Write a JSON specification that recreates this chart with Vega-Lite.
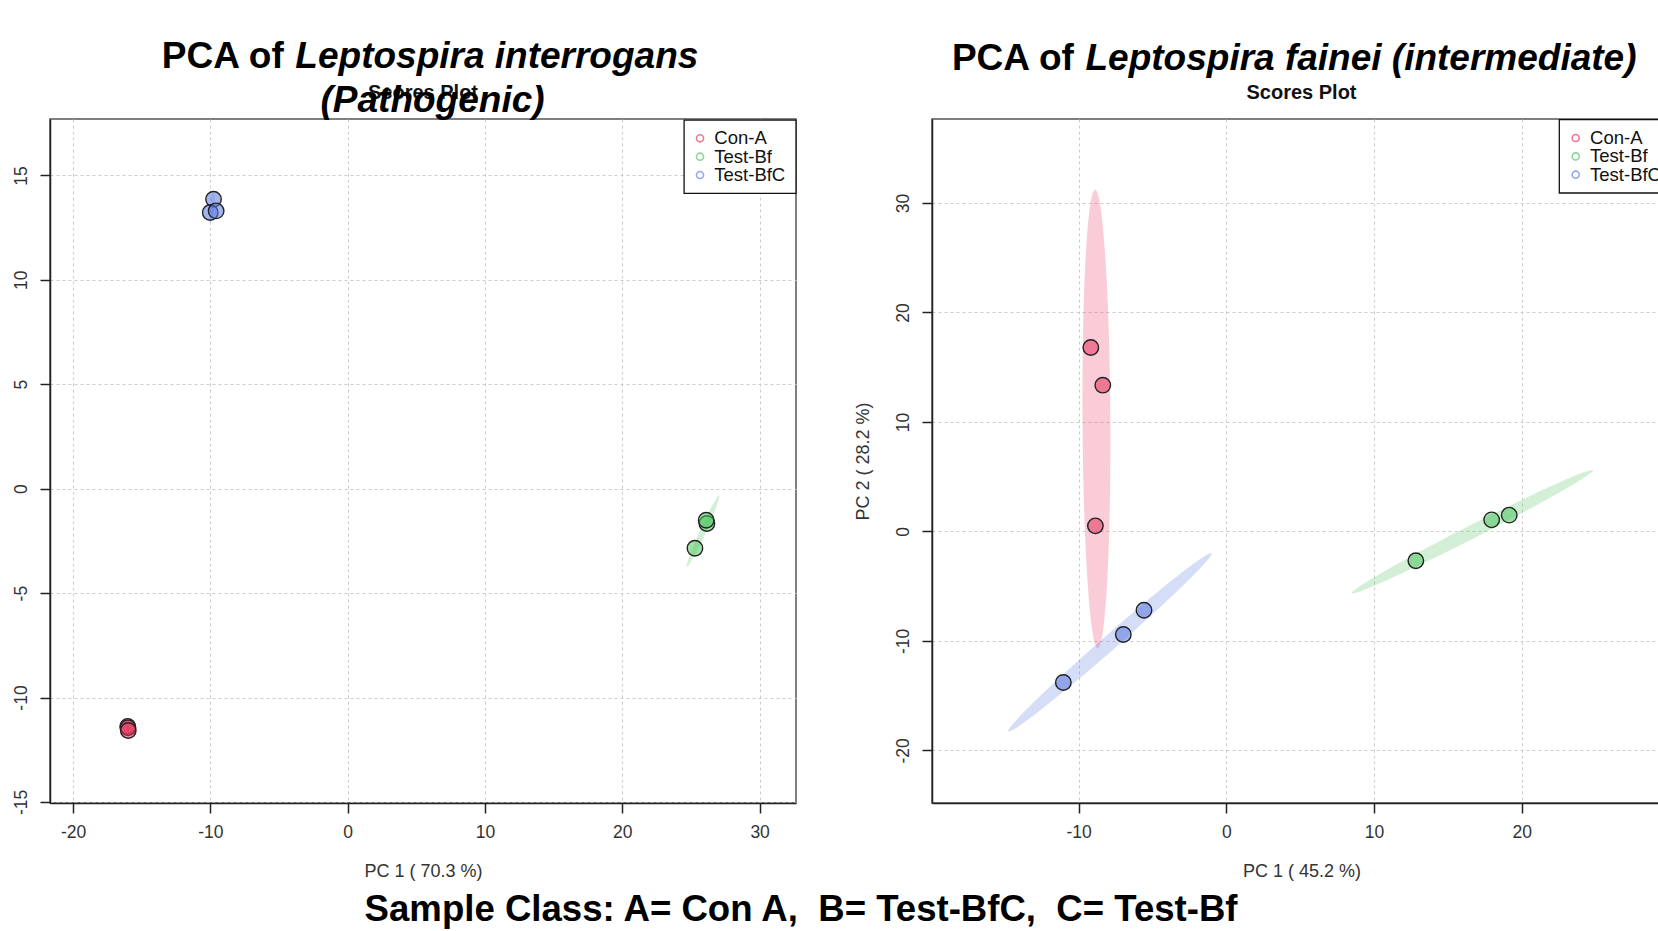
{
  "$schema": "https://vega.github.io/schema/vega-lite/v6.json",
  "background": "white",
  "padding": {"left": 11, "top": 36, "right": 0, "bottom": 0},
  "autosize": {"type": "pad"},
  "bounds": "flush",
  "spacing": 136,
  "config": {
    "font": "Liberation Sans",
    "view": {"stroke": "#555", "strokeWidth": 1.5},
    "axis": {
      "domainColor": "#222", "domainWidth": 1.5, "tickColor": "#222", "tickWidth": 1.5, "tickSize": 10,
      "labelFont": "Liberation Sans", "labelFontSize": 17.5, "labelColor": "#333", "labelOverlap": false, "labelFlush": false,
      "labelExpr": "datum.value < 0 ? '-' + abs(datum.value) : '' + datum.value",
      "titleFont": "Liberation Sans", "titleFontSize": 18, "titleFontWeight": "normal", "titleColor": "#333",
      "grid": true, "gridColor": "#cccccc", "gridDash": [3, 3], "gridWidth": 1
    },
    "axisX": {"labelPadding": 10, "titlePadding": 22},
    "axisY": {"labelAngle": -90, "labelAlign": "center", "labelBaseline": "alphabetic", "labelPadding": 14, "titlePadding": 22}
  },
  "resolve": {"scale": {"color": "independent", "fill": "independent", "x": "independent", "y": "independent"}},
  "datasets": {
    "leg": [
      {"group": "Con-A"},
      {"group": "Test-Bf"},
      {"group": "Test-BfC"}
    ],
    "pts1": [
      {"pc1": -16.02, "pc2": -11.38, "group": "Con-A"},
      {"pc1": -16.0, "pc2": -11.45, "group": "Con-A"},
      {"pc1": -15.98, "pc2": -11.58, "group": "Con-A"},
      {"pc1": 25.29, "pc2": -2.85, "group": "Test-Bf"},
      {"pc1": 26.16, "pc2": -1.67, "group": "Test-Bf"},
      {"pc1": 26.11, "pc2": -1.51, "group": "Test-Bf"},
      {"pc1": -9.77, "pc2": 13.86, "group": "Test-BfC"},
      {"pc1": -10.01, "pc2": 13.22, "group": "Test-BfC"},
      {"pc1": -9.58, "pc2": 13.3, "group": "Test-BfC"}
    ],
    "pts2": [
      {"pc1": -9.17, "pc2": 16.8, "group": "Con-A"},
      {"pc1": -8.36, "pc2": 13.36, "group": "Con-A"},
      {"pc1": -8.86, "pc2": 0.51, "group": "Con-A"},
      {"pc1": 12.83, "pc2": -2.68, "group": "Test-Bf"},
      {"pc1": 17.96, "pc2": 1.06, "group": "Test-Bf"},
      {"pc1": 19.15, "pc2": 1.49, "group": "Test-Bf"},
      {"pc1": -5.57, "pc2": -7.19, "group": "Test-BfC"},
      {"pc1": -6.97, "pc2": -9.41, "group": "Test-BfC"},
      {"pc1": -11.03, "pc2": -13.79, "group": "Test-BfC"}
    ],
    "ell1": [
      {"group": "Con-A", "i": 0, "pc1": -15.97, "pc2": -11.18},
      {"group": "Con-A", "i": 1, "pc1": -15.908, "pc2": -11.268},
      {"group": "Con-A", "i": 2, "pc1": -15.9, "pc2": -11.48},
      {"group": "Con-A", "i": 3, "pc1": -15.95, "pc2": -11.692},
      {"group": "Con-A", "i": 4, "pc1": -16.03, "pc2": -11.78},
      {"group": "Con-A", "i": 5, "pc1": -16.092, "pc2": -11.692},
      {"group": "Con-A", "i": 6, "pc1": -16.1, "pc2": -11.48},
      {"group": "Con-A", "i": 7, "pc1": -16.05, "pc2": -11.268},
      {"group": "Test-BfC", "i": 0, "pc1": -9.77, "pc2": 14.17},
      {"group": "Test-BfC", "i": 1, "pc1": -9.699, "pc2": 13.956},
      {"group": "Test-BfC", "i": 2, "pc1": -9.74, "pc2": 13.44},
      {"group": "Test-BfC", "i": 3, "pc1": -9.869, "pc2": 12.924},
      {"group": "Test-BfC", "i": 4, "pc1": -10.01, "pc2": 12.71},
      {"group": "Test-BfC", "i": 5, "pc1": -10.081, "pc2": 12.924},
      {"group": "Test-BfC", "i": 6, "pc1": -10.04, "pc2": 13.44},
      {"group": "Test-BfC", "i": 7, "pc1": -9.911, "pc2": 13.956},
      {"group": "Test-Bf", "i": 0, "pc1": 27.06, "pc2": -0.31},
      {"group": "Test-Bf", "i": 1, "pc1": 27.047, "pc2": -0.464},
      {"group": "Test-Bf", "i": 2, "pc1": 26.855, "pc2": -0.856},
      {"group": "Test-Bf", "i": 3, "pc1": 26.517, "pc2": -1.426},
      {"group": "Test-Bf", "i": 4, "pc1": 26.08, "pc2": -2.089},
      {"group": "Test-Bf", "i": 5, "pc1": 25.613, "pc2": -2.744},
      {"group": "Test-Bf", "i": 6, "pc1": 25.187, "pc2": -3.288},
      {"group": "Test-Bf", "i": 7, "pc1": 24.867, "pc2": -3.642},
      {"group": "Test-Bf", "i": 8, "pc1": 24.7, "pc2": -3.75},
      {"group": "Test-Bf", "i": 9, "pc1": 24.713, "pc2": -3.596},
      {"group": "Test-Bf", "i": 10, "pc1": 24.905, "pc2": -3.204},
      {"group": "Test-Bf", "i": 11, "pc1": 25.243, "pc2": -2.634},
      {"group": "Test-Bf", "i": 12, "pc1": 25.68, "pc2": -1.971},
      {"group": "Test-Bf", "i": 13, "pc1": 26.147, "pc2": -1.316},
      {"group": "Test-Bf", "i": 14, "pc1": 26.573, "pc2": -0.772},
      {"group": "Test-Bf", "i": 15, "pc1": 26.893, "pc2": -0.418}
    ],
    "ell2": [
      {"group": "Con-A", "i": 0, "pc1": -8.88, "pc2": 31.2},
      {"group": "Con-A", "i": 1, "pc1": -8.513, "pc2": 29.61},
      {"group": "Con-A", "i": 2, "pc1": -8.189, "pc2": 25.06},
      {"group": "Con-A", "i": 3, "pc1": -7.955, "pc2": 18.28},
      {"group": "Con-A", "i": 4, "pc1": -7.85, "pc2": 10.26},
      {"group": "Con-A", "i": 5, "pc1": -7.887, "pc2": 2.24},
      {"group": "Con-A", "i": 6, "pc1": -8.061, "pc2": -4.54},
      {"group": "Con-A", "i": 7, "pc1": -8.347, "pc2": -9.09},
      {"group": "Con-A", "i": 8, "pc1": -8.7, "pc2": -10.68},
      {"group": "Con-A", "i": 9, "pc1": -9.067, "pc2": -9.09},
      {"group": "Con-A", "i": 10, "pc1": -9.391, "pc2": -4.54},
      {"group": "Con-A", "i": 11, "pc1": -9.625, "pc2": 2.24},
      {"group": "Con-A", "i": 12, "pc1": -9.73, "pc2": 10.26},
      {"group": "Con-A", "i": 13, "pc1": -9.693, "pc2": 18.28},
      {"group": "Con-A", "i": 14, "pc1": -9.519, "pc2": 25.06},
      {"group": "Con-A", "i": 15, "pc1": -9.233, "pc2": 29.61},
      {"group": "Test-BfC", "i": 0, "pc1": -0.99, "pc2": -1.98},
      {"group": "Test-BfC", "i": 1, "pc1": -1.385, "pc2": -2.796},
      {"group": "Test-BfC", "i": 2, "pc1": -2.77, "pc2": -4.729},
      {"group": "Test-BfC", "i": 3, "pc1": -4.926, "pc2": -7.478},
      {"group": "Test-BfC", "i": 4, "pc1": -7.536, "pc2": -10.635},
      {"group": "Test-BfC", "i": 5, "pc1": -10.196, "pc2": -13.714},
      {"group": "Test-BfC", "i": 6, "pc1": -12.498, "pc2": -16.239},
      {"group": "Test-BfC", "i": 7, "pc1": -14.099, "pc2": -17.838},
      {"group": "Test-BfC", "i": 8, "pc1": -14.75, "pc2": -18.26},
      {"group": "Test-BfC", "i": 9, "pc1": -14.355, "pc2": -17.444},
      {"group": "Test-BfC", "i": 10, "pc1": -12.97, "pc2": -15.511},
      {"group": "Test-BfC", "i": 11, "pc1": -10.814, "pc2": -12.762},
      {"group": "Test-BfC", "i": 12, "pc1": -8.204, "pc2": -9.605},
      {"group": "Test-BfC", "i": 13, "pc1": -5.544, "pc2": -6.526},
      {"group": "Test-BfC", "i": 14, "pc1": -3.242, "pc2": -4.001},
      {"group": "Test-BfC", "i": 15, "pc1": -1.641, "pc2": -2.402},
      {"group": "Test-Bf", "i": 0, "pc1": 24.83, "pc2": 5.6},
      {"group": "Test-Bf", "i": 1, "pc1": 24.286, "pc2": 4.97},
      {"group": "Test-Bf", "i": 2, "pc1": 22.576, "pc2": 3.581},
      {"group": "Test-Bf", "i": 3, "pc1": 19.971, "pc2": 1.647},
      {"group": "Test-Bf", "i": 4, "pc1": 16.855, "pc2": -0.544},
      {"group": "Test-Bf", "i": 5, "pc1": 13.709, "pc2": -2.655},
      {"group": "Test-Bf", "i": 6, "pc1": 11.016, "pc2": -4.359},
      {"group": "Test-Bf", "i": 7, "pc1": 9.178, "pc2": -5.406},
      {"group": "Test-Bf", "i": 8, "pc1": 8.48, "pc2": -5.63},
      {"group": "Test-Bf", "i": 9, "pc1": 9.024, "pc2": -5.0},
      {"group": "Test-Bf", "i": 10, "pc1": 10.734, "pc2": -3.611},
      {"group": "Test-Bf", "i": 11, "pc1": 13.339, "pc2": -1.677},
      {"group": "Test-Bf", "i": 12, "pc1": 16.455, "pc2": 0.514},
      {"group": "Test-Bf", "i": 13, "pc1": 19.601, "pc2": 2.625},
      {"group": "Test-Bf", "i": 14, "pc1": 22.294, "pc2": 4.329},
      {"group": "Test-Bf", "i": 15, "pc1": 24.132, "pc2": 5.376}
    ]
  },
  "hconcat": [
    {
      "width": 746,
      "height": 684,
      "layer": [
        {
          "data": {"name": "ell1"},
          "mark": {"type": "line", "interpolate": "cardinal-closed", "fillOpacity": 0.25, "strokeOpacity": 0, "strokeWidth": 0},
          "encoding": {
            "x": {"field": "pc1", "type": "quantitative", "scale": {"domain": [-21.68, 32.65], "nice": false, "zero": false}, "axis": {"values": [-20, -10, 0, 10, 20, 30], "title": "PC 1 ( 70.3 %)"}},
            "y": {"field": "pc2", "type": "quantitative", "scale": {"domain": [-15.05, 17.7], "nice": false, "zero": false}, "axis": {"values": [-15, -10, -5, 0, 5, 10, 15], "title": null}},
            "order": {"field": "i", "type": "quantitative"},
            "detail": {"field": "group"},
            "fill": {"field": "group", "type": "nominal", "scale": {"domain": ["Con-A", "Test-Bf", "Test-BfC"], "range": ["#e8345f", "#4fc45f", "#5a78e0"]}, "legend": null}
          }
        },
        {
          "data": {"name": "pts1"},
          "mark": {"type": "point", "filled": true, "shape": "circle", "size": 240, "fillOpacity": 0.55, "stroke": "#222", "strokeWidth": 1.4},
          "encoding": {
            "x": {"field": "pc1", "type": "quantitative"},
            "y": {"field": "pc2", "type": "quantitative"},
            "fill": {"field": "group", "type": "nominal", "legend": null}
          }
        },
        {
          "data": {"values": [{"t": "box"}]},
          "mark": {"type": "rect", "fill": "white", "stroke": "#111", "strokeWidth": 1.3},
          "encoding": {"x": {"datum": 24.5, "type": "quantitative"}, "x2": {"datum": 32.65}, "y": {"datum": 17.65, "type": "quantitative"}, "y2": {"datum": 14.14}}
        },
        {
          "data": {"name": "leg"},
          "transform": [{"filter": "datum.group === 'Con-A'"}],
          "encoding": {"y": {"datum": 16.776, "type": "quantitative"}},
          "layer": [
            {"mark": {"type": "point", "filled": false, "shape": "circle", "size": 50, "strokeWidth": 1.6},
             "encoding": {"x": {"datum": 25.66, "type": "quantitative"}, "color": {"field": "group", "type": "nominal", "scale": {"domain": ["Con-A", "Test-Bf", "Test-BfC"], "range": ["#e8416a", "#5cc46c", "#6f7fe3"]}, "legend": null}}},
            {"mark": {"type": "text", "align": "left", "baseline": "middle", "font": "Liberation Sans", "fontSize": 18.5, "fill": "#111"},
             "encoding": {"x": {"datum": 26.7, "type": "quantitative"}, "text": {"field": "group"}}}
          ]
        },
        {
          "data": {"name": "leg"},
          "transform": [{"filter": "datum.group === 'Test-Bf'"}],
          "encoding": {"y": {"datum": 15.895, "type": "quantitative"}},
          "layer": [
            {"mark": {"type": "point", "filled": false, "shape": "circle", "size": 50, "strokeWidth": 1.6},
             "encoding": {"x": {"datum": 25.66, "type": "quantitative"}, "color": {"field": "group", "type": "nominal", "scale": {"domain": ["Con-A", "Test-Bf", "Test-BfC"], "range": ["#e8416a", "#5cc46c", "#6f7fe3"]}, "legend": null}}},
            {"mark": {"type": "text", "align": "left", "baseline": "middle", "font": "Liberation Sans", "fontSize": 18.5, "fill": "#111"},
             "encoding": {"x": {"datum": 26.7, "type": "quantitative"}, "text": {"field": "group"}}}
          ]
        },
        {
          "data": {"name": "leg"},
          "transform": [{"filter": "datum.group === 'Test-BfC'"}],
          "encoding": {"y": {"datum": 15.019, "type": "quantitative"}},
          "layer": [
            {"mark": {"type": "point", "filled": false, "shape": "circle", "size": 50, "strokeWidth": 1.6},
             "encoding": {"x": {"datum": 25.66, "type": "quantitative"}, "color": {"field": "group", "type": "nominal", "scale": {"domain": ["Con-A", "Test-Bf", "Test-BfC"], "range": ["#e8416a", "#5cc46c", "#6f7fe3"]}, "legend": null}}},
            {"mark": {"type": "text", "align": "left", "baseline": "middle", "font": "Liberation Sans", "fontSize": 18.5, "fill": "#111"},
             "encoding": {"x": {"datum": 26.7, "type": "quantitative"}, "text": {"field": "group"}}}
          ]
        },
        {
          "data": {"values": [{"t": "Scores Plot"}]},
          "mark": {"type": "text", "align": "center", "baseline": "alphabetic", "font": "Liberation Sans", "fontSize": 20, "fontWeight": "bold", "fill": "#111"},
          "encoding": {"x": {"datum": 5.485, "type": "quantitative"}, "y": {"datum": 18.66, "type": "quantitative"}, "text": {"field": "t"}}
        },
        {
          "data": {"values": [{"t": "PCA of"}]},
          "mark": {"type": "text", "align": "left", "baseline": "alphabetic", "font": "Liberation Sans", "fontSize": 37, "fontWeight": "bold", "fill": "#000"},
          "encoding": {"x": {"datum": -13.54, "type": "quantitative"}, "y": {"datum": 20.16, "type": "quantitative"}, "text": {"field": "t"}}
        },
        {
          "data": {"values": [{"t": "Leptospira interrogans"}]},
          "mark": {"type": "text", "align": "left", "baseline": "alphabetic", "font": "Liberation Sans", "fontSize": 37, "fontWeight": "bold", "fontStyle": "italic", "fill": "#000"},
          "encoding": {"x": {"datum": -3.81, "type": "quantitative"}, "y": {"datum": 20.16, "type": "quantitative"}, "text": {"field": "t"}}
        },
        {
          "data": {"values": [{"t": "(Pathogenic)"}]},
          "mark": {"type": "text", "align": "center", "baseline": "alphabetic", "font": "Liberation Sans", "fontSize": 37, "fontWeight": "bold", "fontStyle": "italic", "fill": "#000"},
          "encoding": {"x": {"datum": 6.18, "type": "quantitative"}, "y": {"datum": 18.04, "type": "quantitative"}, "text": {"field": "t"}}
        },
        {
          "data": {"values": [{"t": "Sample Class: A= Con A,\u00a0 B= Test-BfC,\u00a0 C= Test-Bf"}]},
          "mark": {"type": "text", "align": "center", "baseline": "alphabetic", "font": "Liberation Sans", "fontSize": 36.6, "fontWeight": "bold", "fill": "#000"},
          "encoding": {"x": {"datum": 33.02, "type": "quantitative"}, "y": {"datum": -20.7, "type": "quantitative"}, "text": {"field": "t"}}
        }
      ]
    },
    {
      "width": 739,
      "height": 684,
      "layer": [
        {
          "data": {"name": "ell2"},
          "mark": {"type": "line", "interpolate": "cardinal-closed", "fillOpacity": 0.25, "strokeOpacity": 0, "strokeWidth": 0},
          "encoding": {
            "x": {"field": "pc1", "type": "quantitative", "scale": {"domain": [-19.92, 30.1], "nice": false, "zero": false}, "axis": {"values": [-10, 0, 10, 20], "title": "PC 1 ( 45.2 %)"}},
            "y": {"field": "pc2", "type": "quantitative", "scale": {"domain": [-24.8, 37.67], "nice": false, "zero": false}, "axis": {"values": [-20, -10, 0, 10, 20, 30], "title": "PC 2 ( 28.2 %)"}},
            "order": {"field": "i", "type": "quantitative"},
            "detail": {"field": "group"},
            "fill": {"field": "group", "type": "nominal", "scale": {"domain": ["Con-A", "Test-Bf", "Test-BfC"], "range": ["#e8345f", "#4fc45f", "#5a78e0"]}, "legend": null}
          }
        },
        {
          "data": {"name": "pts2"},
          "mark": {"type": "point", "filled": true, "shape": "circle", "size": 240, "fillOpacity": 0.55, "stroke": "#222", "strokeWidth": 1.4},
          "encoding": {
            "x": {"field": "pc1", "type": "quantitative"},
            "y": {"field": "pc2", "type": "quantitative"},
            "fill": {"field": "group", "type": "nominal", "legend": null}
          }
        },
        {
          "data": {"values": [{"t": "box"}]},
          "mark": {"type": "rect", "fill": "white", "stroke": "#111", "strokeWidth": 1.3},
          "encoding": {"x": {"datum": 22.54, "type": "quantitative"}, "x2": {"datum": 31.5}, "y": {"datum": 37.61, "type": "quantitative"}, "y2": {"datum": 30.91}}
        },
        {
          "data": {"name": "leg"},
          "transform": [{"filter": "datum.group === 'Con-A'"}],
          "encoding": {"y": {"datum": 35.935, "type": "quantitative"}},
          "layer": [
            {"mark": {"type": "point", "filled": false, "shape": "circle", "size": 50, "strokeWidth": 1.6},
             "encoding": {"x": {"datum": 23.65, "type": "quantitative"}, "color": {"field": "group", "type": "nominal", "scale": {"domain": ["Con-A", "Test-Bf", "Test-BfC"], "range": ["#e8416a", "#5cc46c", "#6f7fe3"]}, "legend": null}}},
            {"mark": {"type": "text", "align": "left", "baseline": "middle", "font": "Liberation Sans", "fontSize": 18.5, "fill": "#111"},
             "encoding": {"x": {"datum": 24.62, "type": "quantitative"}, "text": {"field": "group"}}}
          ]
        },
        {
          "data": {"name": "leg"},
          "transform": [{"filter": "datum.group === 'Test-Bf'"}],
          "encoding": {"y": {"datum": 34.254, "type": "quantitative"}},
          "layer": [
            {"mark": {"type": "point", "filled": false, "shape": "circle", "size": 50, "strokeWidth": 1.6},
             "encoding": {"x": {"datum": 23.65, "type": "quantitative"}, "color": {"field": "group", "type": "nominal", "scale": {"domain": ["Con-A", "Test-Bf", "Test-BfC"], "range": ["#e8416a", "#5cc46c", "#6f7fe3"]}, "legend": null}}},
            {"mark": {"type": "text", "align": "left", "baseline": "middle", "font": "Liberation Sans", "fontSize": 18.5, "fill": "#111"},
             "encoding": {"x": {"datum": 24.62, "type": "quantitative"}, "text": {"field": "group"}}}
          ]
        },
        {
          "data": {"name": "leg"},
          "transform": [{"filter": "datum.group === 'Test-BfC'"}],
          "encoding": {"y": {"datum": 32.583, "type": "quantitative"}},
          "layer": [
            {"mark": {"type": "point", "filled": false, "shape": "circle", "size": 50, "strokeWidth": 1.6},
             "encoding": {"x": {"datum": 23.65, "type": "quantitative"}, "color": {"field": "group", "type": "nominal", "scale": {"domain": ["Con-A", "Test-Bf", "Test-BfC"], "range": ["#e8416a", "#5cc46c", "#6f7fe3"]}, "legend": null}}},
            {"mark": {"type": "text", "align": "left", "baseline": "middle", "font": "Liberation Sans", "fontSize": 18.5, "fill": "#111"},
             "encoding": {"x": {"datum": 24.62, "type": "quantitative"}, "text": {"field": "group"}}}
          ]
        },
        {
          "data": {"values": [{"t": "Scores Plot"}]},
          "mark": {"type": "text", "align": "center", "baseline": "alphabetic", "font": "Liberation Sans", "fontSize": 20, "fontWeight": "bold", "fill": "#111"},
          "encoding": {"x": {"datum": 5.09, "type": "quantitative"}, "y": {"datum": 39.52, "type": "quantitative"}, "text": {"field": "t"}}
        },
        {
          "data": {"values": [{"t": "PCA of"}]},
          "mark": {"type": "text", "align": "left", "baseline": "alphabetic", "font": "Liberation Sans", "fontSize": 37, "fontWeight": "bold", "fill": "#000"},
          "encoding": {"x": {"datum": -18.57, "type": "quantitative"}, "y": {"datum": 42.1, "type": "quantitative"}, "text": {"field": "t"}}
        },
        {
          "data": {"values": [{"t": "Leptospira fainei (intermediate)"}]},
          "mark": {"type": "text", "align": "left", "baseline": "alphabetic", "font": "Liberation Sans", "fontSize": 37, "fontWeight": "bold", "fontStyle": "italic", "fill": "#000"},
          "encoding": {"x": {"datum": -9.53, "type": "quantitative"}, "y": {"datum": 42.1, "type": "quantitative"}, "text": {"field": "t"}}
        }
      ]
    }
  ]
}
